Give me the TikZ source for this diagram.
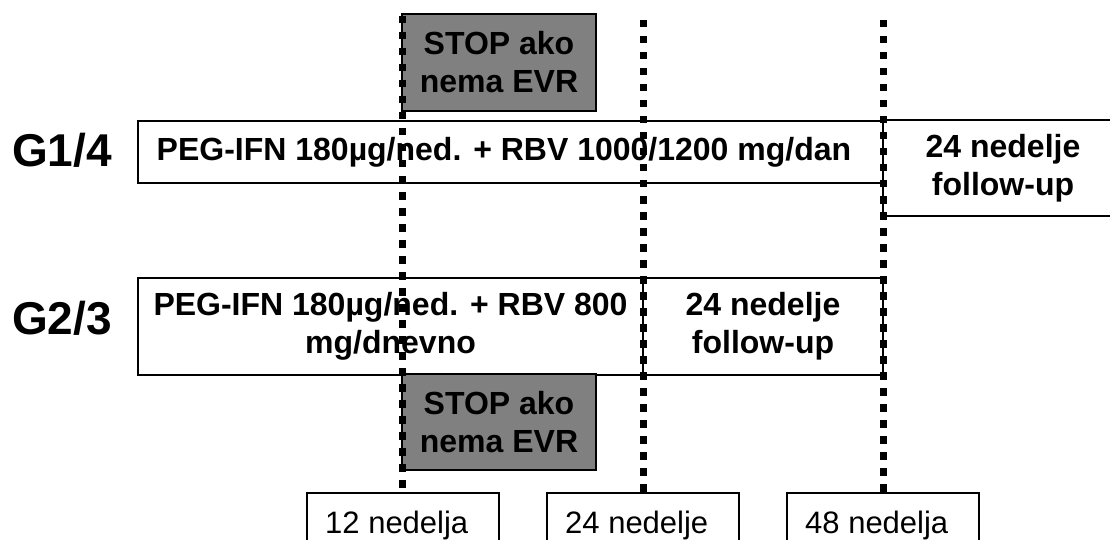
\documentclass[tikz,border=0pt]{standalone}
\usepackage{fontspec}
\setmainfont{Liberation Sans}
\definecolor{stopgray}{HTML}{808080}
\begin{document}
\begin{tikzpicture}[x=1pt,y=-1pt,
  frame/.style={draw=black, line width=2.2pt, fill=white, inner sep=0pt, outer sep=0pt},
  stopbox/.style={frame, fill=stopgray},
  boldtxt/.style={font=\bfseries\fontsize{32}{38}\selectfont, align=center, inner sep=0pt},
  glabel/.style={font=\bfseries\fontsize{46}{50}\selectfont, anchor=base west, inner sep=0pt},
  weekbox/.style={draw=black, line width=2pt, fill=white, inner sep=0pt, outer sep=0pt, minimum width=192pt, minimum height=70pt, anchor=north},
  weektxt/.style={font=\fontsize{31}{36}\selectfont, anchor=base west, inner sep=0pt},
  vline/.style={line width=7pt, dash pattern=on 7.5pt off 8.5pt}
]
\clip (0,0) rectangle (1110,540);
\fill[white] (0,0) rectangle (1110,540);

% group labels
\node[glabel] (g14) at (12,167) {G1/4};
\node[glabel] (g23) at (12,334) {G2/3};

% G1/4 row
\node[frame, minimum width=745pt, minimum height=62pt] (m14) at (510.5,152) {};
\node[boldtxt] (m14t) at (504,152) {PEG-IFN 180µg/ned. + RBV 1000/1200 mg/dan};
\node[frame, minimum width=240pt, minimum height=96pt] (f14) at (1003,168) {};
\node[boldtxt] (f14t) at (1003,168) {24 nedelje\\follow-up};

% G2/3 row
\node[frame, minimum width=505pt, minimum height=97pt] (m23) at (390.5,326.5) {};
\node[boldtxt] (m23t) at (390.5,326.5) {PEG-IFN 180µg/ned. + RBV 800\\mg/dnevno};
\node[frame, minimum width=240pt, minimum height=97pt] (f23) at (763,326.5) {};
\node[boldtxt] (f23t) at (763,326.5) {24 nedelje\\follow-up};

% STOP boxes
\node[stopbox, minimum width=194pt, minimum height=97pt] (s1) at (499,62.5) {};
\node[boldtxt] (s1t) at (499,62.5) {STOP ako\\nema EVR};
\node[stopbox, minimum width=194pt, minimum height=96pt] (s2) at (499,422) {};
\node[boldtxt] (s2t) at (499,422) {STOP ako\\nema EVR};

% week boxes
\node[weekbox] (w12) at (403,493) {};
\node[weekbox] (w24) at (643,493) {};
\node[weekbox] (w48) at (883,493) {};
\node[weektxt] (w12t) at (325,533) {12 nedelja};
\node[weektxt] (w24t) at (565,533) {24 nedelje};
\node[weektxt] (w48t) at (805,533) {48 nedelja};

% dotted time lines
\coordinate (a1) at (402,16);
\coordinate (b1) at (402,492);
\coordinate (a2) at (643,20);
\coordinate (b2) at (643,492);
\coordinate (a3) at (883,20);
\coordinate (b3) at (883,492);
\draw[vline] (a1) -- (b1);
\draw[vline] (a2) -- (b2);
\draw[vline] (a3) -- (b3);
\end{tikzpicture}
\end{document}
